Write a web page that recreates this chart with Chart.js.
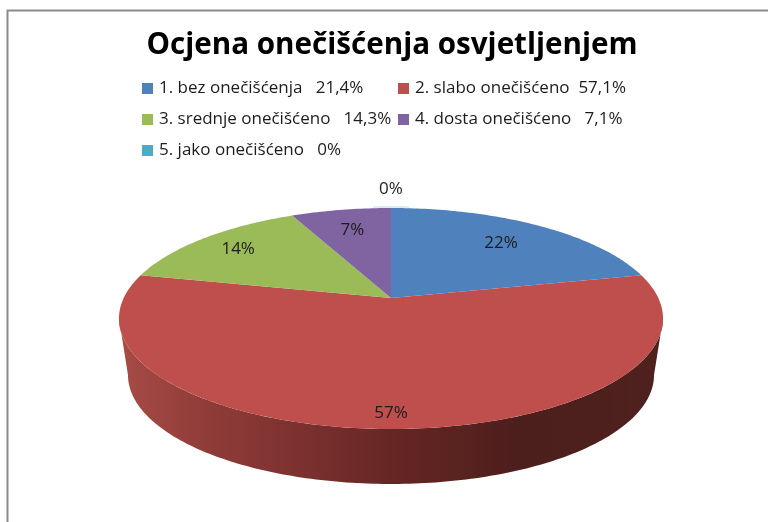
<!DOCTYPE html>
<html>
<head>
<meta charset="utf-8">
<title>Ocjena onečišćenja osvjetljenjem</title>
<script src="https://cdn.jsdelivr.net/npm/chart.js@4"></script>
<style>
  html, body { margin: 0; padding: 0; background: #fff; }
  canvas { display: block; }
</style>
</head>
<body>
<canvas id="chart" width="768" height="522"></canvas>
<script>
const categories = [
  '1. bez onečišćenja   21,4%',
  '2. slabo onečišćeno  57,1%',
  '3. srednje onečišćeno   14,3%',
  '4. dosta onečišćeno   7,1%',
  '5. jako onečišćeno   0%',
];
const values = [21.4, 57.1, 14.3, 7.1, 0];
const sliceLabels = ['22%', '57%', '14%', '7%', '0%'];
const sliceColors = ['#4f81bd', '#bf4f4c', '#9bbb59', '#8064a2', '#4bacc6'];

const FONT = '"Open Sans", sans-serif';

// top face of the pie: unit circle -> tilted disc, apex is off the ellipse centre
const cx = 391;
const persp = -0.1855;
function topPoint(a, r) {
  const u = r * Math.cos(a);
  const v = r * Math.sin(a);
  const w = 1 + persp * v;
  return { x: cx + 267.3 * u / w, y: (51.4 * v + 298) / w };
}
// bottom rim is the same circle a bit smaller and lower
function rimPoint(a) {
  const p = topPoint(a, 1);
  return { x: cx + (p.x - cx) * 263 / 272, y: 375 + (p.y - 318.5) * 109 / 110.5 };
}

function tracePath(ctx, from, to, pointAt) {
  const steps = Math.max(2, Math.ceil(Math.abs(to - from) * 60));
  for (let i = 0; i <= steps; i++) {
    const p = pointAt(from + (to - from) * i / steps);
    ctx.lineTo(p.x, p.y);
  }
}

const pie3d = {
  id: 'pie3d',
  beforeDraw(chart) {
    // frame of the slide, only top and left are visible
    const ctx = chart.ctx;
    ctx.save();
    ctx.strokeStyle = '#8a8a8a';
    ctx.lineWidth = 2;
    ctx.beginPath();
    ctx.moveTo(7.5, 522);
    ctx.lineTo(7.5, 10.5);
    ctx.lineTo(768, 10.5);
    ctx.stroke();
    ctx.restore();
  },
  beforeDatasetDraw(chart, args, opts) {
    const ctx = chart.ctx;
    const arcs = chart.getDatasetMeta(0).data;
    const frontStart = Math.asin(-persp);
    const frontEnd = Math.PI - frontStart;

    ctx.save();
    // side wall, only the part of each slice that faces us
    arcs.forEach((arc) => {
      const from = Math.max(arc.startAngle, frontStart);
      const to = Math.min(arc.endAngle, frontEnd);
      if (to <= from) return;
      const grad = ctx.createLinearGradient(128, 0, 654, 0);
      opts.wallStops.forEach((s) => grad.addColorStop(s[0], s[1]));
      ctx.fillStyle = grad;
      ctx.beginPath();
      tracePath(ctx, from, to, (a) => topPoint(a, 1));
      tracePath(ctx, to, from, rimPoint);
      ctx.closePath();
      ctx.fill();
    });

    // top face
    arcs.forEach((arc, i) => {
      if (arc.endAngle - arc.startAngle < 0.001) {
        // empty slice only leaves a pale mark on the back edge
        ctx.strokeStyle = 'rgba(75,172,198,0.22)';
        ctx.lineWidth = 2;
        ctx.beginPath();
        tracePath(ctx, arc.startAngle - 0.08, arc.startAngle + 0.08, (a) => {
          const p = topPoint(a, 1);
          return { x: p.x, y: p.y - 1 };
        });
        ctx.stroke();
        return;
      }
      const c = topPoint(0, 0);
      ctx.fillStyle = sliceColors[i];
      ctx.beginPath();
      ctx.moveTo(c.x, c.y);
      tracePath(ctx, arc.startAngle, arc.endAngle, (a) => topPoint(a, 1));
      ctx.closePath();
      ctx.fill();
    });
    ctx.restore();
    return false;
  },
  afterDatasetsDraw(chart, args, opts) {
    const ctx = chart.ctx;
    const arcs = chart.getDatasetMeta(0).data;
    ctx.save();
    ctx.fillStyle = '#1c1c1c';
    ctx.font = '17px ' + FONT;
    ctx.textAlign = 'center';
    ctx.textBaseline = 'middle';
    arcs.forEach((arc, i) => {
      const mid = (arc.startAngle + arc.endAngle) / 2;
      const p = topPoint(mid, opts.labelRadius[i]);
      ctx.fillText(sliceLabels[i], p.x, p.y);
    });

    // legend: two fixed columns, chart.js legend can't line those up
    ctx.textAlign = 'left';
    chart.data.labels.forEach((text, i) => {
      const col = i % 2;
      const row = Math.floor(i / 2);
      const x = opts.legendX[col];
      const y = opts.legendY[row];
      ctx.fillStyle = sliceColors[i];
      ctx.fillRect(x, y - 5, 11, 11);
      ctx.fillStyle = '#1c1c1c';
      ctx.fillText(text, x + 17, y);
    });
    ctx.restore();
  },
};

new Chart(document.getElementById('chart'), {
  type: 'pie',
  data: {
    labels: categories,
    datasets: [{ data: values, backgroundColor: sliceColors }],
  },
  plugins: [pie3d],
  options: {
    responsive: false,
    animation: false,
    layout: { padding: { left: 16, top: 28 } },
    plugins: {
      legend: { display: false },
      tooltip: { enabled: false },
      title: {
        display: true,
        text: 'Ocjena onečišćenja osvjetljenjem',
        color: '#000',
        font: { family: FONT, size: 29.6, weight: 'bold' },
        padding: 0,
      },
      pie3d: {
        labelRadius: [0.73, 0.9, 0.8, 0.74, 1.26],
        legendX: [142, 398],
        legendY: [88, 119, 150],
        wallStops: [
          [0, '#a54a45'],
          [0.16, '#8e3b38'],
          [0.3, '#7f3331'],
          [0.5, '#662624'],
          [0.65, '#57221f'],
          [0.74, '#4c1e1c'],
          [1, '#4e201e'],
        ],
      },
    },
  },
});
</script>
</body>
</html>
